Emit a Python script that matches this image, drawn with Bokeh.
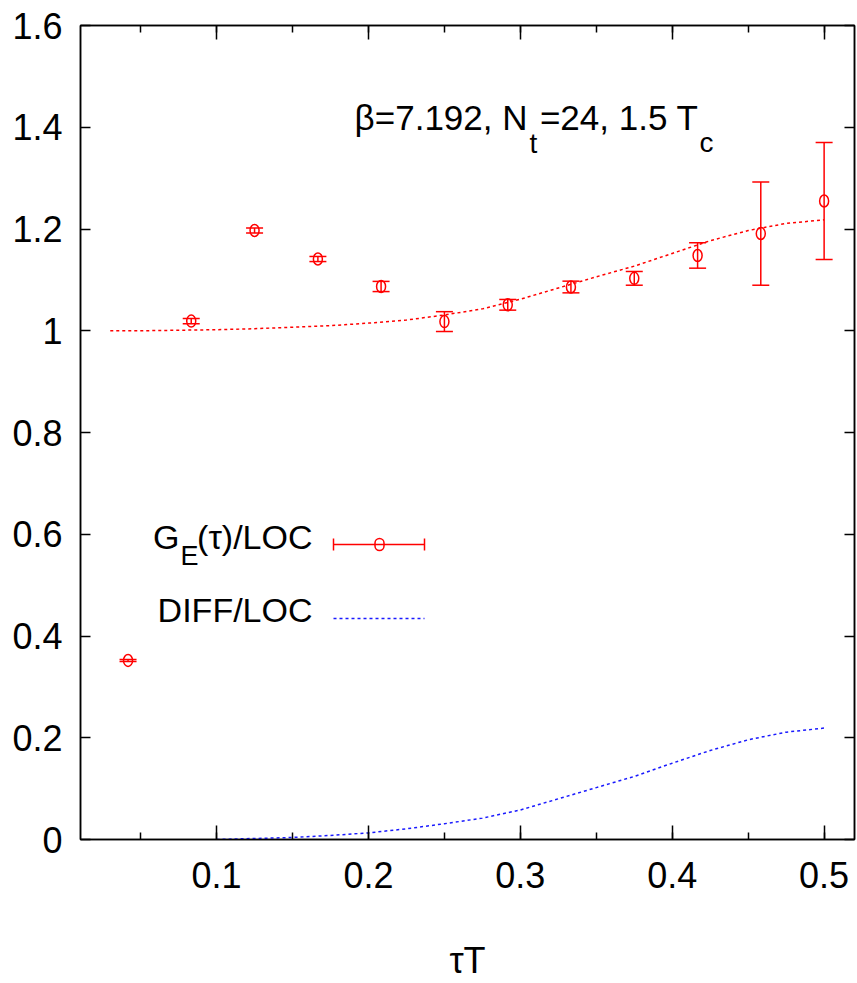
from bokeh.plotting import figure
from bokeh.models import (Range1d, LinearAxis, SingleIntervalTicker, CustomJSTickFormatter,
                          ColumnDataSource, Whisker, TeeHead, Label, Arrow, BoxAnnotation)
from bokeh.embed import file_html
from bokeh.resources import INLINE

# ---------------- data ----------------
tau_T = [0.0417, 0.0833, 0.125, 0.1667, 0.2083, 0.25, 0.2917, 0.3333, 0.375, 0.4167, 0.4583, 0.5]
ge_over_loc = [0.352, 1.019, 1.197, 1.141, 1.087, 1.018, 1.051, 1.086, 1.103, 1.148, 1.191, 1.255]
ge_err = [0.002, 0.005, 0.005, 0.005, 0.010, 0.0195, 0.0105, 0.0115, 0.0135, 0.025, 0.1015, 0.115]

fit_tau = [0.03, 0.05, 0.075, 0.1, 0.125, 0.15, 0.175, 0.2, 0.225, 0.25, 0.275, 0.3,
           0.325, 0.35, 0.375, 0.4, 0.425, 0.45, 0.475, 0.5]
fit_ratio = [1.000, 1.000, 1.001, 1.002, 1.004, 1.007, 1.010, 1.015, 1.021, 1.031, 1.043, 1.062,
             1.084, 1.106, 1.127, 1.152, 1.177, 1.197, 1.211, 1.218]

diff_tau = [0.1, 0.125, 0.15, 0.175, 0.2, 0.225, 0.25, 0.275, 0.3, 0.325, 0.35, 0.375,
            0.4, 0.425, 0.45, 0.475, 0.5]
diff_over_loc = [0.000, 0.002, 0.004, 0.008, 0.013, 0.021, 0.031, 0.042, 0.058, 0.080, 0.102, 0.124,
                 0.150, 0.175, 0.196, 0.211, 0.219]

x_label = "τT"
legend_main = "G"
legend_sub = "E"
legend_rest = "(τ)/LOC"
legend_diff = "DIFF/LOC"
title_a, title_a_sub, title_b, title_b_sub = "β=7.192, N", "t", "=24, 1.5 T", "c"

# ---------------- layout ----------------
W, H = 857, 983
FL, FR, FT, FB = 80, 854, 25, 839
X0, X1 = 0.0104, 0.52
Y0, Y1 = 0.0, 1.6
FONT = "Liberation Sans"
RED = "#ff0000"
BLUE = "#1a1aff"


def px2x(px):
    return X0 + (px - FL) * (X1 - X0) / (FR - FL)


def py2y(py):
    return Y0 + (FB - py) * (Y1 - Y0) / (FB - FT)


p = figure(width=W, height=H, x_range=Range1d(X0, X1), y_range=Range1d(Y0, Y1),
           output_backend="svg", toolbar_location=None,
           x_axis_type=None, y_axis_type=None,
           min_border_left=FL, min_border_right=W - FR, min_border_top=FT, min_border_bottom=H - FB)
p.grid.visible = False
p.outline_line_color = "black"
p.outline_line_width = 1.5
p.background_fill_color = "white"
p.border_fill_color = "white"

fmt = CustomJSTickFormatter(code="return (Math.round(tick*10)/10).toString();")


def style_hidden_labels(ax):
    ax.major_label_text_color = None
    ax.major_label_text_alpha = 0
    ax.major_label_text_font_size = "1px"
    ax.major_label_standoff = 0


def x_axis(show):
    ax = LinearAxis(ticker=SingleIntervalTicker(interval=0.1, num_minor_ticks=2), formatter=fmt,
                    major_tick_in=14, major_tick_out=0, minor_tick_in=7, minor_tick_out=0,
                    axis_line_width=1.5, major_tick_line_width=1.5, minor_tick_line_width=1.5,
                    axis_line_color="black", major_tick_line_color="black", minor_tick_line_color="black")
    if show:
        ax.major_label_text_font = FONT
        ax.major_label_text_font_size = "36px"
        ax.major_label_text_color = "black"
        ax.major_label_standoff = 22
        ax.axis_label = x_label
        ax.axis_label_text_font = FONT
        ax.axis_label_text_font_size = "36px"
        ax.axis_label_text_font_style = "normal"
        ax.axis_label_text_color = "black"
        ax.axis_label_standoff = 49
    else:
        style_hidden_labels(ax)
    return ax


def y_axis(show):
    ax = LinearAxis(ticker=SingleIntervalTicker(interval=0.2, num_minor_ticks=0), formatter=fmt,
                    major_tick_in=10, major_tick_out=0, minor_tick_in=0, minor_tick_out=0,
                    axis_line_width=1.5, major_tick_line_width=1.5,
                    axis_line_color="black", major_tick_line_color="black")
    if show:
        ax.major_label_text_font = FONT
        ax.major_label_text_font_size = "36px"
        ax.major_label_text_color = "black"
        ax.major_label_standoff = 18
    else:
        style_hidden_labels(ax)
    return ax


p.add_layout(x_axis(True), "below")
p.add_layout(x_axis(False), "above")
p.add_layout(y_axis(True), "left")
p.add_layout(y_axis(False), "right")

# ---------------- curves ----------------
p.line(fit_tau, fit_ratio, line_color=RED, line_width=1.5, line_dash="3 3")
p.line(diff_tau, diff_over_loc, line_color=BLUE, line_width=1.5, line_dash="3 3")

# ---------------- data points with error bars ----------------
src = ColumnDataSource(dict(
    x=tau_T, y=ge_over_loc,
    upper=[v + e for v, e in zip(ge_over_loc, ge_err)],
    lower=[v - e for v, e in zip(ge_over_loc, ge_err)],
))
p.add_layout(Whisker(base="x", upper="upper", lower="lower", source=src, dimension="height",
                     line_color=RED, line_width=1.5,
                     upper_head=TeeHead(size=17, line_color=RED, line_width=1.5),
                     lower_head=TeeHead(size=17, line_color=RED, line_width=1.5)))
p.ellipse(x="x", y="y", source=src, width=9, height=12, width_units="screen", height_units="screen",
          fill_color=None, line_color=RED, line_width=1.5)

# ---------------- title text ----------------
p.add_layout(Label(x=px2x(527), y=py2y(136), text=title_a, text_font=FONT, text_font_size="35px",
                   text_color="black", text_align="right"))
p.add_layout(Label(x=px2x(529), y=py2y(158), text=title_a_sub, text_font=FONT, text_font_size="28px",
                   text_color="black"))
p.add_layout(Label(x=px2x(698), y=py2y(136), text=title_b, text_font=FONT, text_font_size="35px",
                   text_color="black", text_align="right"))
p.add_layout(Label(x=px2x(699), y=py2y(157), text=title_b_sub, text_font=FONT, text_font_size="28px",
                   text_color="black"))

# ---------------- legend ----------------
p.add_layout(Label(x=px2x(179), y=py2y(555), text=legend_main, text_font=FONT, text_font_size="34px",
                   text_color="black", text_align="right"))
p.add_layout(Label(x=px2x(180), y=py2y(570), text=legend_sub, text_font=FONT, text_font_size="27px",
                   text_color="black"))
p.add_layout(Label(x=px2x(312), y=py2y(555), text=legend_rest, text_font=FONT, text_font_size="34px",
                   text_color="black", text_align="right"))
p.add_layout(Label(x=px2x(312), y=py2y(628), text=legend_diff, text_font=FONT, text_font_size="34px",
                   text_color="black", text_align="right"))

p.add_layout(Arrow(x_start=px2x(333), y_start=py2y(544), x_end=px2x(424), y_end=py2y(544),
                   start=TeeHead(size=12, line_color=RED, line_width=1.5),
                   end=TeeHead(size=12, line_color=RED, line_width=1.5),
                   line_color=RED, line_width=1.5))
p.add_layout(BoxAnnotation(left=px2x(374.5), right=px2x(383.5), top=py2y(538), bottom=py2y(550),
                           fill_color=None, fill_alpha=0, line_color=RED, line_alpha=1.0,
                           line_width=1.5, border_radius=5))
p.add_layout(Arrow(x_start=px2x(333), y_start=py2y(618), x_end=px2x(424), y_end=py2y(618),
                   start=None, end=None, line_color=BLUE, line_width=1.5, line_dash="3 3"))

open("out.html", "w").write(file_html(p, INLINE))
